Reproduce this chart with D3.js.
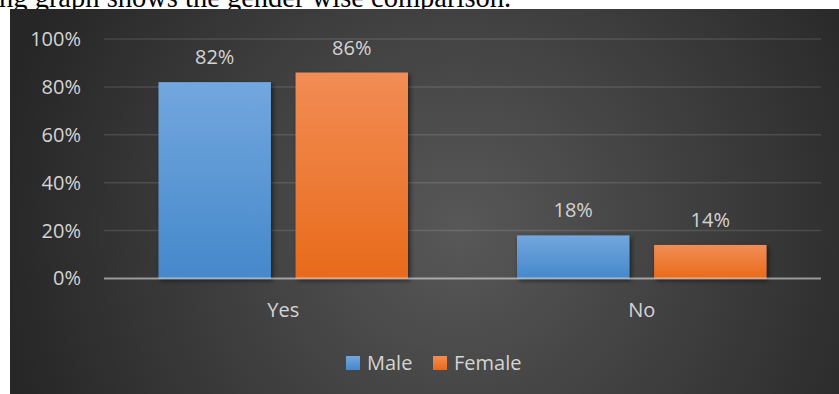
<!DOCTYPE html>
<html>
<head>
<meta charset="utf-8">
<script src="https://cdn.jsdelivr.net/npm/d3@7"></script>
<style>
  body { margin: 0; background: #fff; }
  svg { display: block; }
</style>
</head>
<body>
<div id="chart"></div>
<script>
// chart data
const categories = ["Yes", "No"];
const seriesNames = ["Male", "Female"];
const maleValues = [82, 18];
const femaleValues = [86, 14];
const yTicks = [0, 20, 40, 60, 80, 100];

const width = 839;
const height = 394;
const plot = { left: 104, right: 821, top: 39, bottom: 278.5 };
const seriesColors = {
    Male: ["#72a7de", "#4588cb"],
    Female: ["#f28d55", "#e86a1a"]
};

const rows = categories.map((c, i) => ({ category: c, Male: maleValues[i], Female: femaleValues[i] }));

const svg = d3.select("#chart")
    .append("svg")
    .attr("width", width)
    .attr("height", height);

const defs = svg.append("defs");

// background gradient of the chart area
const bg = defs.append("radialGradient")
    .attr("id", "bg")
    .attr("gradientUnits", "userSpaceOnUse")
    .attr("cx", 460).attr("cy", 230).attr("r", 470);
bg.append("stop").attr("offset", "0%").attr("stop-color", "#585858");
bg.append("stop").attr("offset", "100%").attr("stop-color", "#262626");

seriesNames.forEach(s => {
    const g = defs.append("linearGradient")
        .attr("id", "grad-" + s)
        .attr("x1", 0).attr("y1", 0).attr("x2", 0).attr("y2", 1);
    g.append("stop").attr("offset", "0%").attr("stop-color", seriesColors[s][0]);
    g.append("stop").attr("offset", "100%").attr("stop-color", seriesColors[s][1]);
});

const shadow = defs.append("filter")
    .attr("id", "shadow")
    .attr("x", "-20%").attr("y", "-20%").attr("width", "140%").attr("height", "140%");
shadow.append("feDropShadow")
    .attr("dx", 2).attr("dy", 2).attr("stdDeviation", 2.5)
    .attr("flood-color", "#000").attr("flood-opacity", 0.55);

// text cut off above the chart (page text behind the chart image)
svg.append("text")
    .attr("x", -1)
    .attr("y", 7)
    .attr("font-family", "'Liberation Serif', 'Times New Roman', serif")
    .attr("font-size", 28.5)
    .attr("fill", "#000")
    .text("ng graph shows the gender wise comparison.");

svg.append("rect")
    .attr("x", 10).attr("y", 9)
    .attr("width", width - 10).attr("height", height - 9)
    .attr("fill", "url(#bg)");

// scales
const x0 = d3.scaleBand()
    .domain(categories)
    .range([plot.left, plot.right]);

const x1 = d3.scaleBand()
    .domain(seriesNames)
    .range([54.5, x0.bandwidth() - 54.5])
    .paddingInner(0.18);

const y = d3.scaleLinear()
    .domain([0, 100])
    .range([plot.bottom, plot.top]);

// gridlines
svg.append("g")
    .selectAll("line")
    .data(yTicks.filter(d => d > 0))
    .enter()
    .append("line")
    .attr("x1", plot.left).attr("x2", plot.right)
    .attr("y1", d => y(d)).attr("y2", d => y(d))
    .attr("stroke", "rgba(255,255,255,0.12)")
    .attr("stroke-width", 1.5);

// y axis labels
const yAxis = svg.append("g")
    .attr("transform", `translate(${plot.left},0)`)
    .call(d3.axisLeft(y).tickValues(yTicks).tickFormat(d => d + "%").tickSize(0).tickPadding(23));
yAxis.select(".domain").remove();
yAxis.selectAll("text")
    .attr("font-family", "'Open Sans', sans-serif")
    .attr("font-size", 20)
    .attr("fill", "#d4d4d4");

// bars
const groups = svg.append("g")
    .selectAll("g")
    .data(rows)
    .enter()
    .append("g")
    .attr("transform", d => `translate(${x0(d.category)},0)`);

groups.selectAll("rect")
    .data(d => seriesNames.map(s => ({ series: s, value: d[s] })))
    .enter()
    .append("rect")
    .attr("x", d => x1(d.series))
    .attr("y", d => y(d.value))
    .attr("width", x1.bandwidth())
    .attr("height", d => plot.bottom - y(d.value))
    .attr("fill", d => `url(#grad-${d.series})`)
    .attr("filter", "url(#shadow)");

groups.selectAll("text")
    .data(d => seriesNames.map(s => ({ series: s, value: d[s] })))
    .enter()
    .append("text")
    .attr("x", d => x1(d.series) + x1.bandwidth() / 2)
    .attr("y", d => y(d.value) - 18)
    .attr("text-anchor", "middle")
    .attr("font-family", "'Open Sans', sans-serif")
    .attr("font-size", 20)
    .attr("fill", "#d4d4d4")
    .text(d => d.value + "%");

// x axis
const xAxis = svg.append("g")
    .attr("transform", `translate(0,${plot.bottom})`)
    .call(d3.axisBottom(x0).tickSize(0).tickPadding(24));
xAxis.select(".domain").remove();
xAxis.selectAll("text")
    .attr("font-family", "'Open Sans', sans-serif")
    .attr("font-size", 20)
    .attr("fill", "#d4d4d4");

svg.append("line")
    .attr("x1", plot.left).attr("x2", plot.right)
    .attr("y1", y(0)).attr("y2", y(0))
    .attr("stroke", "rgba(255,255,255,0.5)")
    .attr("stroke-width", 2);

// legend
const legendX = [346, 433];
const legend = svg.append("g")
    .selectAll("g")
    .data(seriesNames)
    .enter()
    .append("g")
    .attr("transform", (d, i) => `translate(${legendX[i]},356)`);

legend.append("rect")
    .attr("width", 14)
    .attr("height", 14)
    .attr("fill", d => `url(#grad-${d})`);

legend.append("text")
    .attr("x", 21)
    .attr("y", 13.5)
    .attr("font-family", "'Open Sans', sans-serif")
    .attr("font-size", 20)
    .attr("fill", "#d4d4d4")
    .text(d => d);
</script>
</body>
</html>
